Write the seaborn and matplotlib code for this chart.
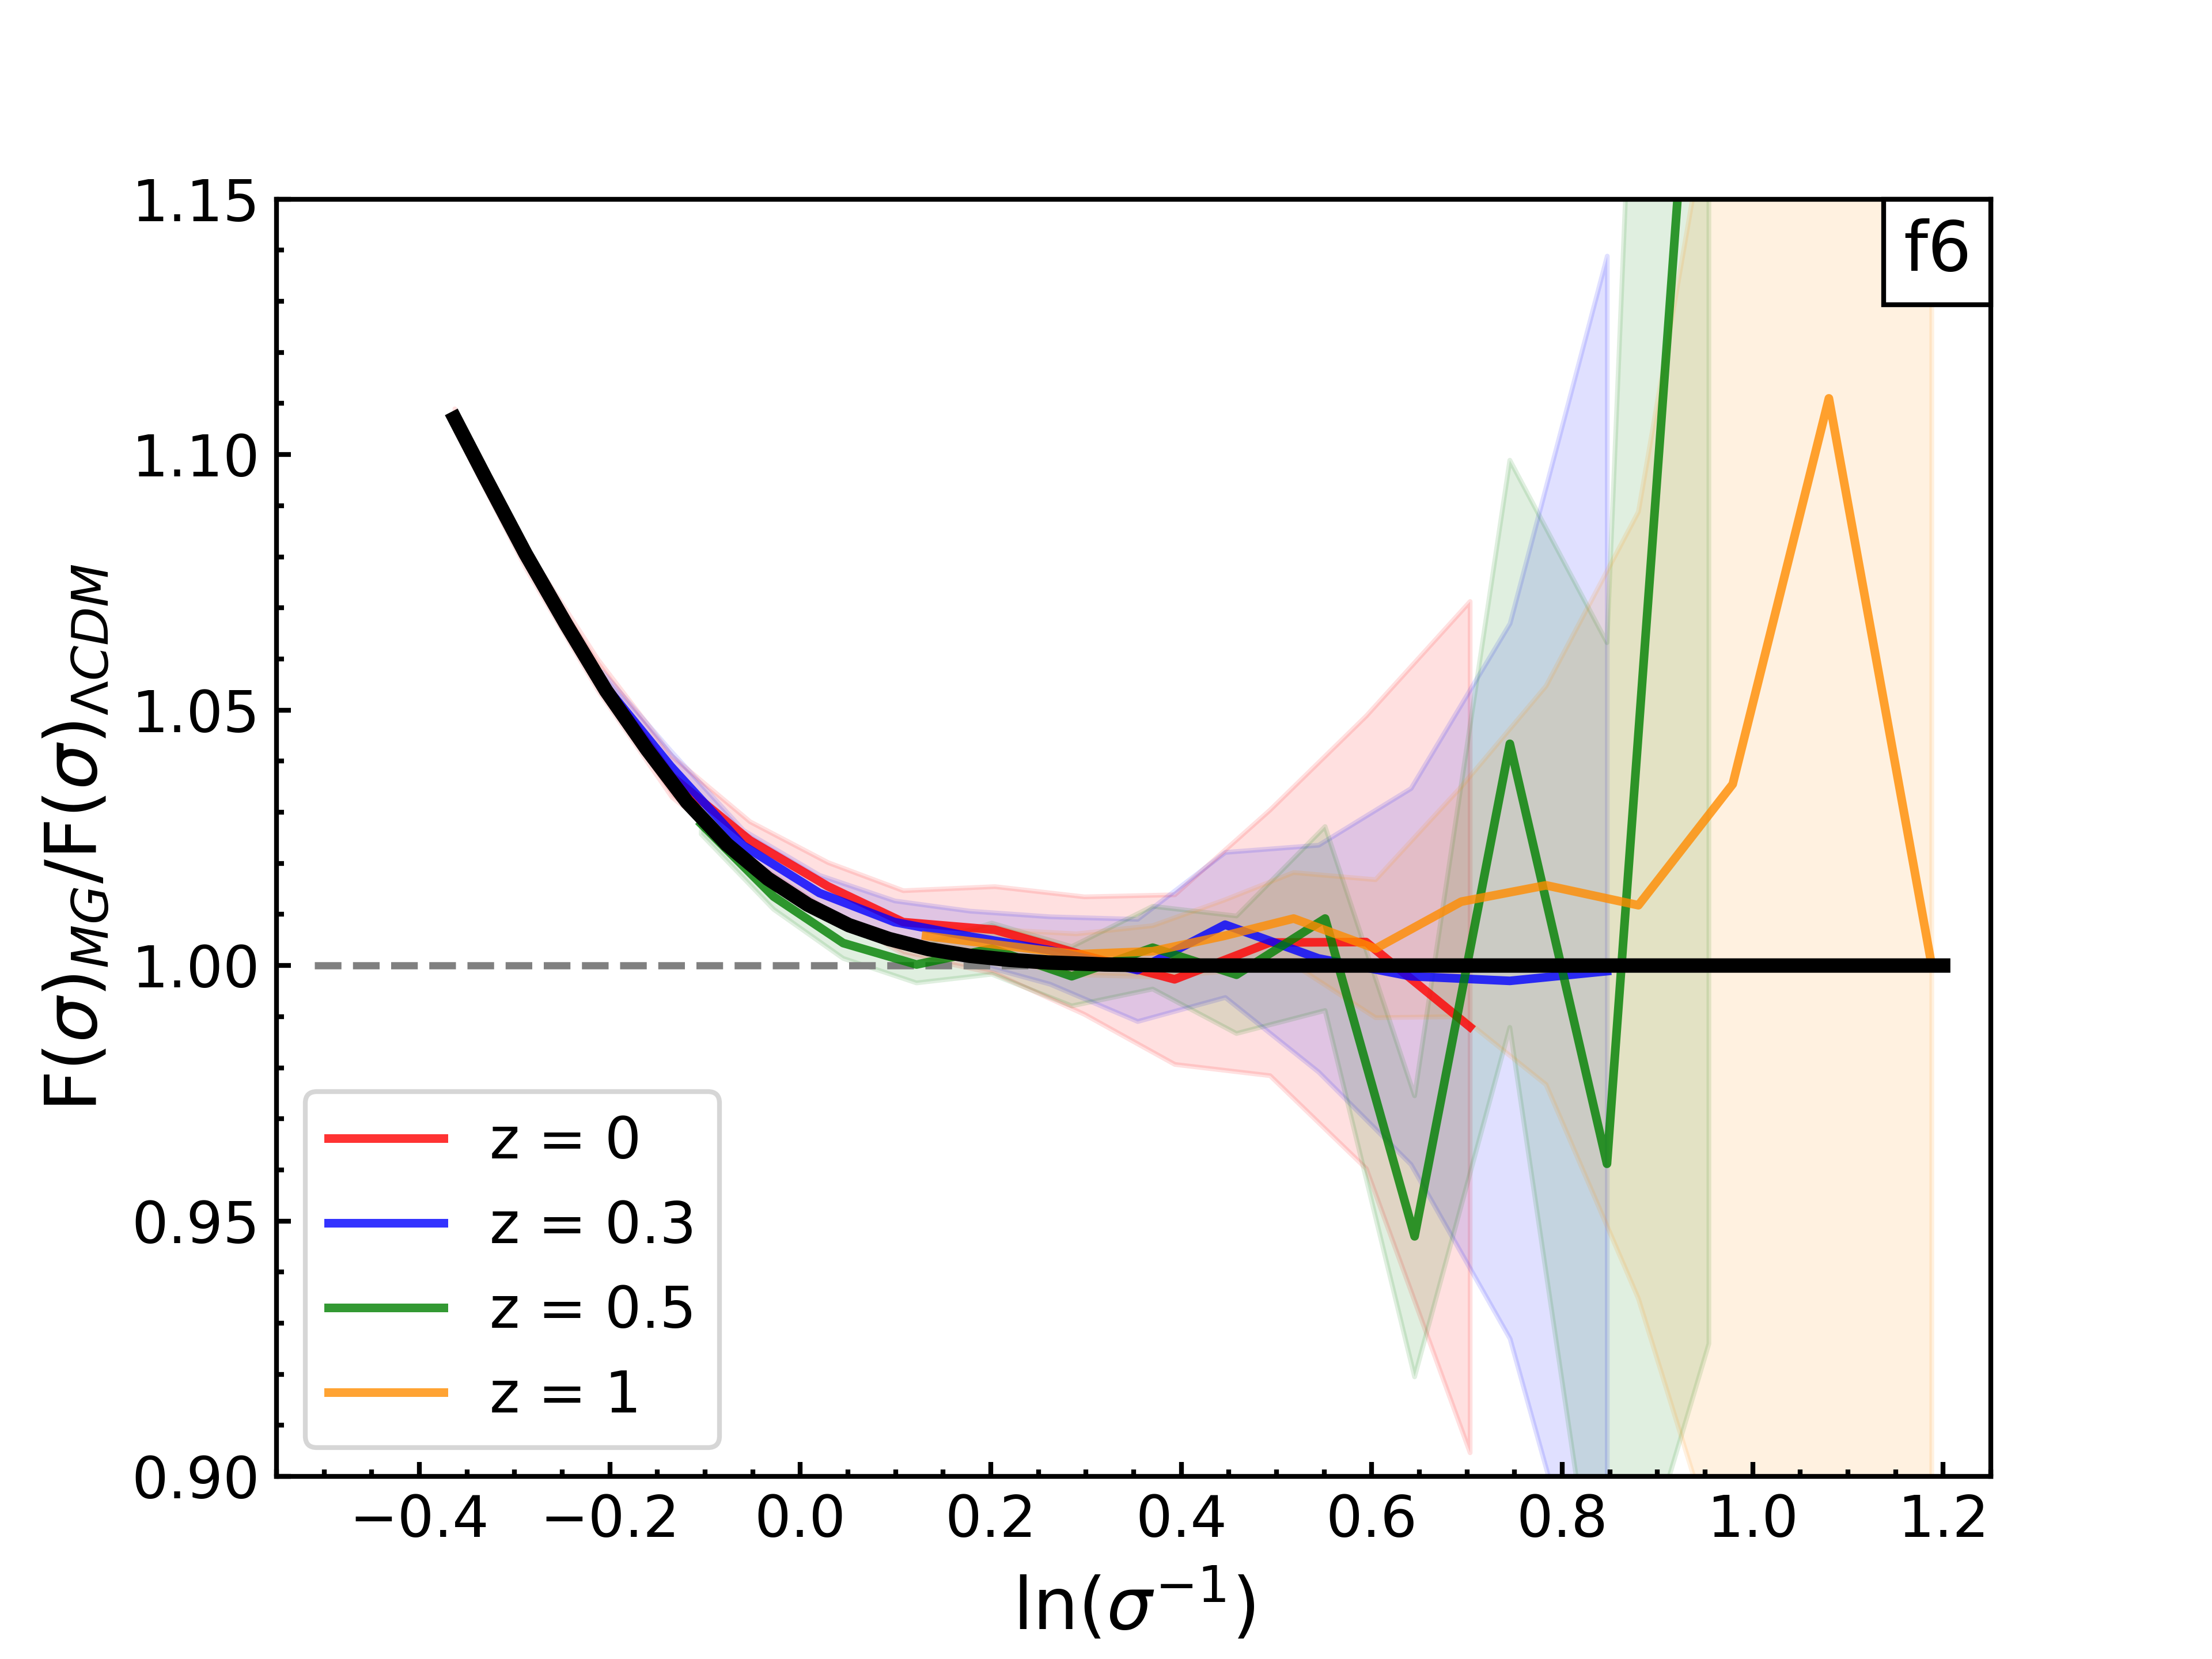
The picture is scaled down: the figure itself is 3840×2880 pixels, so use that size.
import numpy as np
import pandas as pd
import matplotlib
matplotlib.use("Agg")
import matplotlib.pyplot as plt
import seaborn as sns
from matplotlib.offsetbox import AnchoredText
from matplotlib.ticker import MultipleLocator

# ---------------- data ----------------
x_z0 = [-0.363, -0.289, -0.213, -0.135, -0.053, 0.029, 0.108, 0.204, 0.298, 0.393, 0.493, 0.594, 0.703]
y_z0 = [1.107, 1.080, 1.057, 1.037, 1.0245, 1.0155, 1.0085, 1.0070, 1.0020, 0.9973, 1.0045, 1.0046, 0.9880]
e_z0 = [0.002, 0.002, 0.003, 0.004, 0.0037, 0.0047, 0.0062, 0.0085, 0.0115, 0.0166, 0.0260, 0.0443, 0.0833]

x_z03 = [-0.208, -0.136, -0.060, 0.020, 0.099, 0.178, 0.262, 0.354, 0.446, 0.544, 0.641, 0.745, 0.847]
y_z03 = [1.0555, 1.0390, 1.0235, 1.0142, 1.0085, 1.0057, 1.0030, 0.9991, 1.0080, 1.0014, 0.9979, 0.9970, 0.9989]
e_z03 = [0.002, 0.003, 0.003, 0.0035, 0.0042, 0.0050, 0.0066, 0.0100, 0.0142, 0.0222, 0.0368, 0.0700, 0.1400]

x_z05 = [-0.104, -0.028, 0.045, 0.122, 0.201, 0.285, 0.370, 0.458, 0.551, 0.645, 0.745, 0.847, 0.954]
y_z05 = [1.0277, 1.0135, 1.0044, 1.0002, 1.0033, 0.9979, 1.0035, 0.9982, 1.0092, 0.9470, 1.0434, 0.9612, 1.234]
e_z05 = [0.002, 0.0025, 0.003, 0.0036, 0.0050, 0.0058, 0.0081, 0.0115, 0.0180, 0.0275, 0.0555, 0.1020, 0.3080]

x_z1 = [0.132, 0.210, 0.290, 0.370, 0.445, 0.518, 0.604, 0.694, 0.783, 0.880, 0.979, 1.080, 1.188]
y_z1 = [1.0058, 1.0040, 1.0022, 1.0028, 1.0058, 1.0092, 1.0033, 1.0125, 1.0157, 1.0118, 1.0355, 1.111, 1.000]
e_z1 = [0.002, 0.003, 0.004, 0.005, 0.007, 0.009, 0.0135, 0.0225, 0.039, 0.077, 0.160, 0.300, 0.500]

x_fit = [-0.363, -0.331, -0.2885, -0.246, -0.204, -0.161, -0.119, -0.077, -0.034, 0.008, 0.051,
         0.093, 0.135, 0.178, 0.220, 0.260, 0.320, 0.400, 0.500, 0.700, 1.000, 1.200]
y_fit = [1.1071, 1.0956, 1.0806, 1.0668, 1.0538, 1.0423, 1.0320, 1.0237, 1.0170, 1.0119, 1.0079,
         1.0052, 1.0032, 1.0019, 1.0011, 1.0006, 1.0002, 1.0000, 1.0000, 1.0000, 1.0000, 1.0000]

x_ref = [-0.51, 1.20]
y_ref = [1.0, 1.0]

labels = ["z = 0", "z = 0.3", "z = 0.5", "z = 1"]
colors = ["red", "blue", "green", "darkorange"]
series = [(x_z0, y_z0, e_z0), (x_z03, y_z03, e_z03), (x_z05, y_z05, e_z05), (x_z1, y_z1, e_z1)]

# ---------------- figure ----------------
fig, ax = plt.subplots(figsize=(6.4, 4.8), dpi=600)
plt.rcParams['font.family'] = ['DejaVu Sans']

sns.lineplot(x=x_ref, y=y_ref, color="gray", lw=1.5, linestyle="--", ax=ax, legend=False)

for (xs, ys, es), lab, col in zip(series, labels, colors):
    xs = np.asarray(xs); ys = np.asarray(ys); es = np.asarray(es)
    ax.fill_between(xs, ys - es, ys + es, color=col, alpha=0.12)
    sns.lineplot(x=xs, y=ys, color=col, alpha=0.8, lw=1.8, label=lab, ax=ax,
                 errorbar=None, sort=False)

sns.lineplot(x=x_fit, y=y_fit, color="black", lw=3.0, ax=ax, legend=False, zorder=5)

ax.set_xlim(-0.55, 1.25)
ax.set_ylim(0.90, 1.15)
ax.xaxis.set_major_locator(MultipleLocator(0.2))
ax.xaxis.set_minor_locator(MultipleLocator(0.05))
ax.yaxis.set_major_locator(MultipleLocator(0.05))
ax.yaxis.set_minor_locator(MultipleLocator(0.01))
ax.tick_params(which="both", direction="in", top=False, right=False, width=1.0)
ax.tick_params(which="major", length=3, labelsize=12)
ax.tick_params(which="minor", length=1.5)
for sp in ax.spines.values():
    sp.set_linewidth(1.0)

ax.set_xlabel(r"ln($\sigma^{-1}$)", fontsize=15)
ax.set_ylabel(r"F($\sigma$)$_{MG}$/F($\sigma$)$_{\Lambda CDM}$", fontsize=15)

ax.legend(loc="lower left", fontsize=12)

at = AnchoredText("f6", loc="upper right", prop=dict(size=14.4), frameon=True,
                  pad=0.28, borderpad=0.0)
at.patch.set_boxstyle("square,pad=0")
at.patch.set_linewidth(1.0)
at.set_zorder(10)
ax.add_artist(at)

fig.savefig("out.png", dpi=600)
